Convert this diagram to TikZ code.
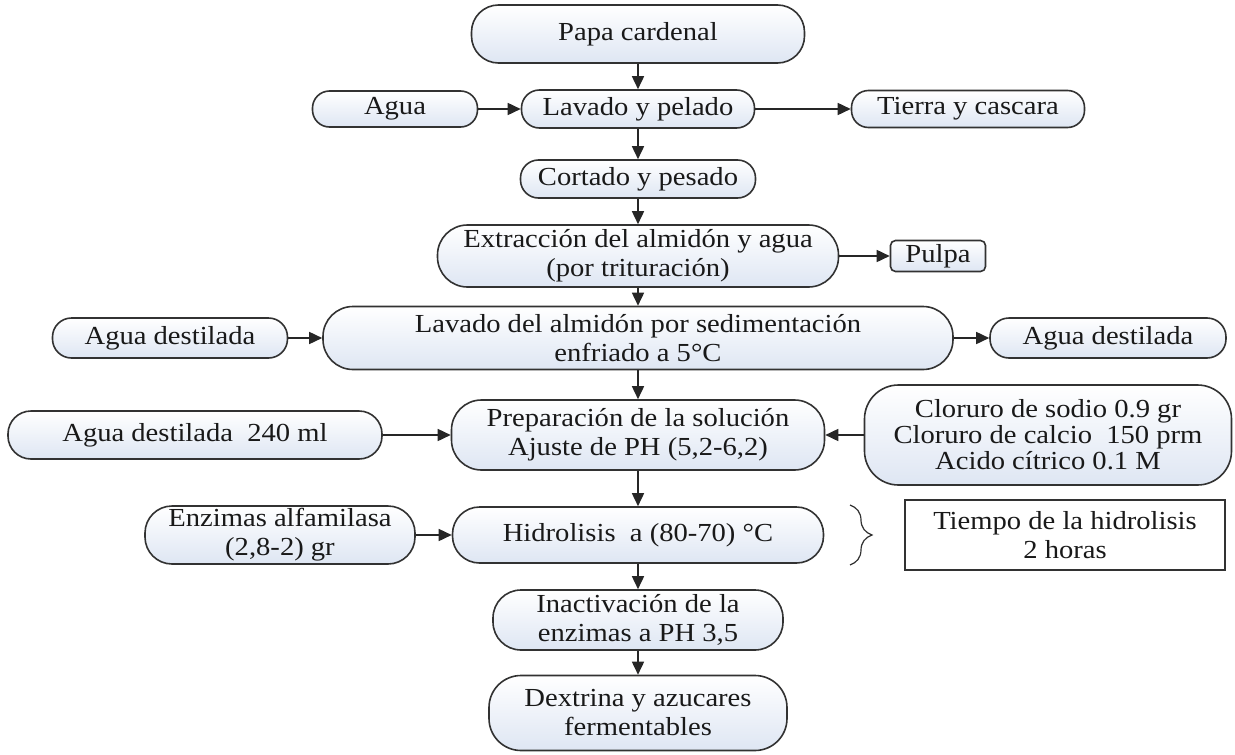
\documentclass[tikz,border=0pt]{standalone}
\usepackage{fontspec}
\setmainfont[FakeStretch=1.1]{Liberation Serif}
\usetikzlibrary{arrows.meta,decorations.pathreplacing}
\definecolor{boxbot}{RGB}{222,230,243}
\definecolor{edge}{RGB}{50,50,50}
\begin{document}
\begin{tikzpicture}[x=1pt,y=-1pt,
  every node/.style={font=\fontsize{26}{29}\selectfont, text=black!90},
  proc/.style={draw=edge, line width=1.6pt, top color=white, bottom color=boxbot,
    align=center, inner sep=0pt},
  conn/.style={draw=black!85, line width=1.6pt, -{Triangle[length=13pt,width=12pt]}},
]
\useasboundingbox (0,0) rectangle (1235,755);
\fill[white] (0,0) rectangle (1235,755);

\node[proc, rounded corners=27pt, minimum width=333pt, minimum height=58pt] (papa) at (638,34) {Papa cardenal};
\node[proc, rounded corners=18pt, minimum width=233pt, minimum height=38pt] (lav) at (638,109) {Lavado y pelado};
\node[proc, rounded corners=17pt, minimum width=165pt, minimum height=36pt] (agua) at (395,109) {Agua};
\node[proc, rounded corners=17pt, minimum width=233pt, minimum height=37pt] (tierra) at (968,109) {Tierra y cascara};
\node[proc, rounded corners=18pt, minimum width=235pt, minimum height=38pt] (cort) at (638,179) {Cortado y pesado};
\node[proc, rounded corners=30pt, minimum width=401pt, minimum height=62pt] (extr) at (638,256) {Extracción del almidón y agua\\(por trituración)};
\node[proc, rounded corners=5pt, minimum width=95pt, minimum height=31pt] (pulpa) at (938,256) {Pulpa};
\node[proc, rounded corners=30pt, minimum width=630pt, minimum height=63pt] (lalm) at (638,338) {Lavado del almidón por sedimentación\\enfriado a 5°C};
\node[proc, rounded corners=19pt, minimum width=235pt, minimum height=40pt] (adl) at (170,338) {Agua destilada};
\node[proc, rounded corners=19pt, minimum width=236pt, minimum height=40pt] (adr) at (1108,338) {Agua destilada};
\node[proc, rounded corners=30pt, minimum width=373pt, minimum height=70pt] (prep) at (638,435) {Preparación de la solución\\Ajuste de PH (5,2-6,2)};
\node[proc, rounded corners=23pt, minimum width=374pt, minimum height=48pt] (ad240) at (195,435) {Agua destilada~~240 ml};
\node[proc, rounded corners=34pt, minimum width=367pt, minimum height=100pt, font=\fontsize{26}{26}\selectfont] (clor) at (1048,435) {Cloruro de sodio 0.9 gr\\Cloruro de calcio~~150 prm\\Acido cítrico 0.1 M};
\node[proc, rounded corners=27pt, minimum width=371pt, minimum height=56pt] (hidr) at (638,535) {Hidrolisis~ a (80-70) °C};
\node[proc, rounded corners=27pt, minimum width=270pt, minimum height=58pt] (enz) at (280,535) {Enzimas alfamilasa\\(2,8-2) gr};
\node[draw=edge, line width=1.2pt, align=center, inner sep=0pt, minimum width=320pt, minimum height=70pt] (tiempo) at (1065,535) {Tiempo de la hidrolisis\\2 horas};
\node[proc, rounded corners=28pt, minimum width=290pt, minimum height=60pt] (inac) at (638,620) {Inactivación de la\\enzimas a PH 3,5};
\node[proc, rounded corners=32pt, minimum width=298pt, minimum height=75pt] (dext) at (638,713) {Dextrina y azucares\\fermentables};

\draw[conn] (papa) -- (lav);
\draw[conn] (lav) -- (cort);
\draw[conn] (cort) -- (extr);
\draw[conn] (extr) -- (lalm);
\draw[conn] (lalm) -- (prep);
\draw[conn] (prep) -- (hidr);
\draw[conn] (hidr) -- (inac);
\draw[conn] (inac) -- (dext);
\draw[conn] (agua) -- (lav);
\draw[conn] (lav) -- (tierra);
\draw[conn] (extr) -- (pulpa);
\draw[conn] (adl) -- (lalm);
\draw[conn] (lalm) -- (adr);
\draw[conn] (ad240) -- (prep);
\draw[conn] (clor) -- (prep);
\draw[conn] (enz) -- (hidr);

\coordinate (bt) at (850,505);
\coordinate (bb) at (850,565);
\draw[edge, line width=1.2pt, decorate, decoration={brace, amplitude=22pt}] (bt) -- (bb);
\end{tikzpicture}
\end{document}
